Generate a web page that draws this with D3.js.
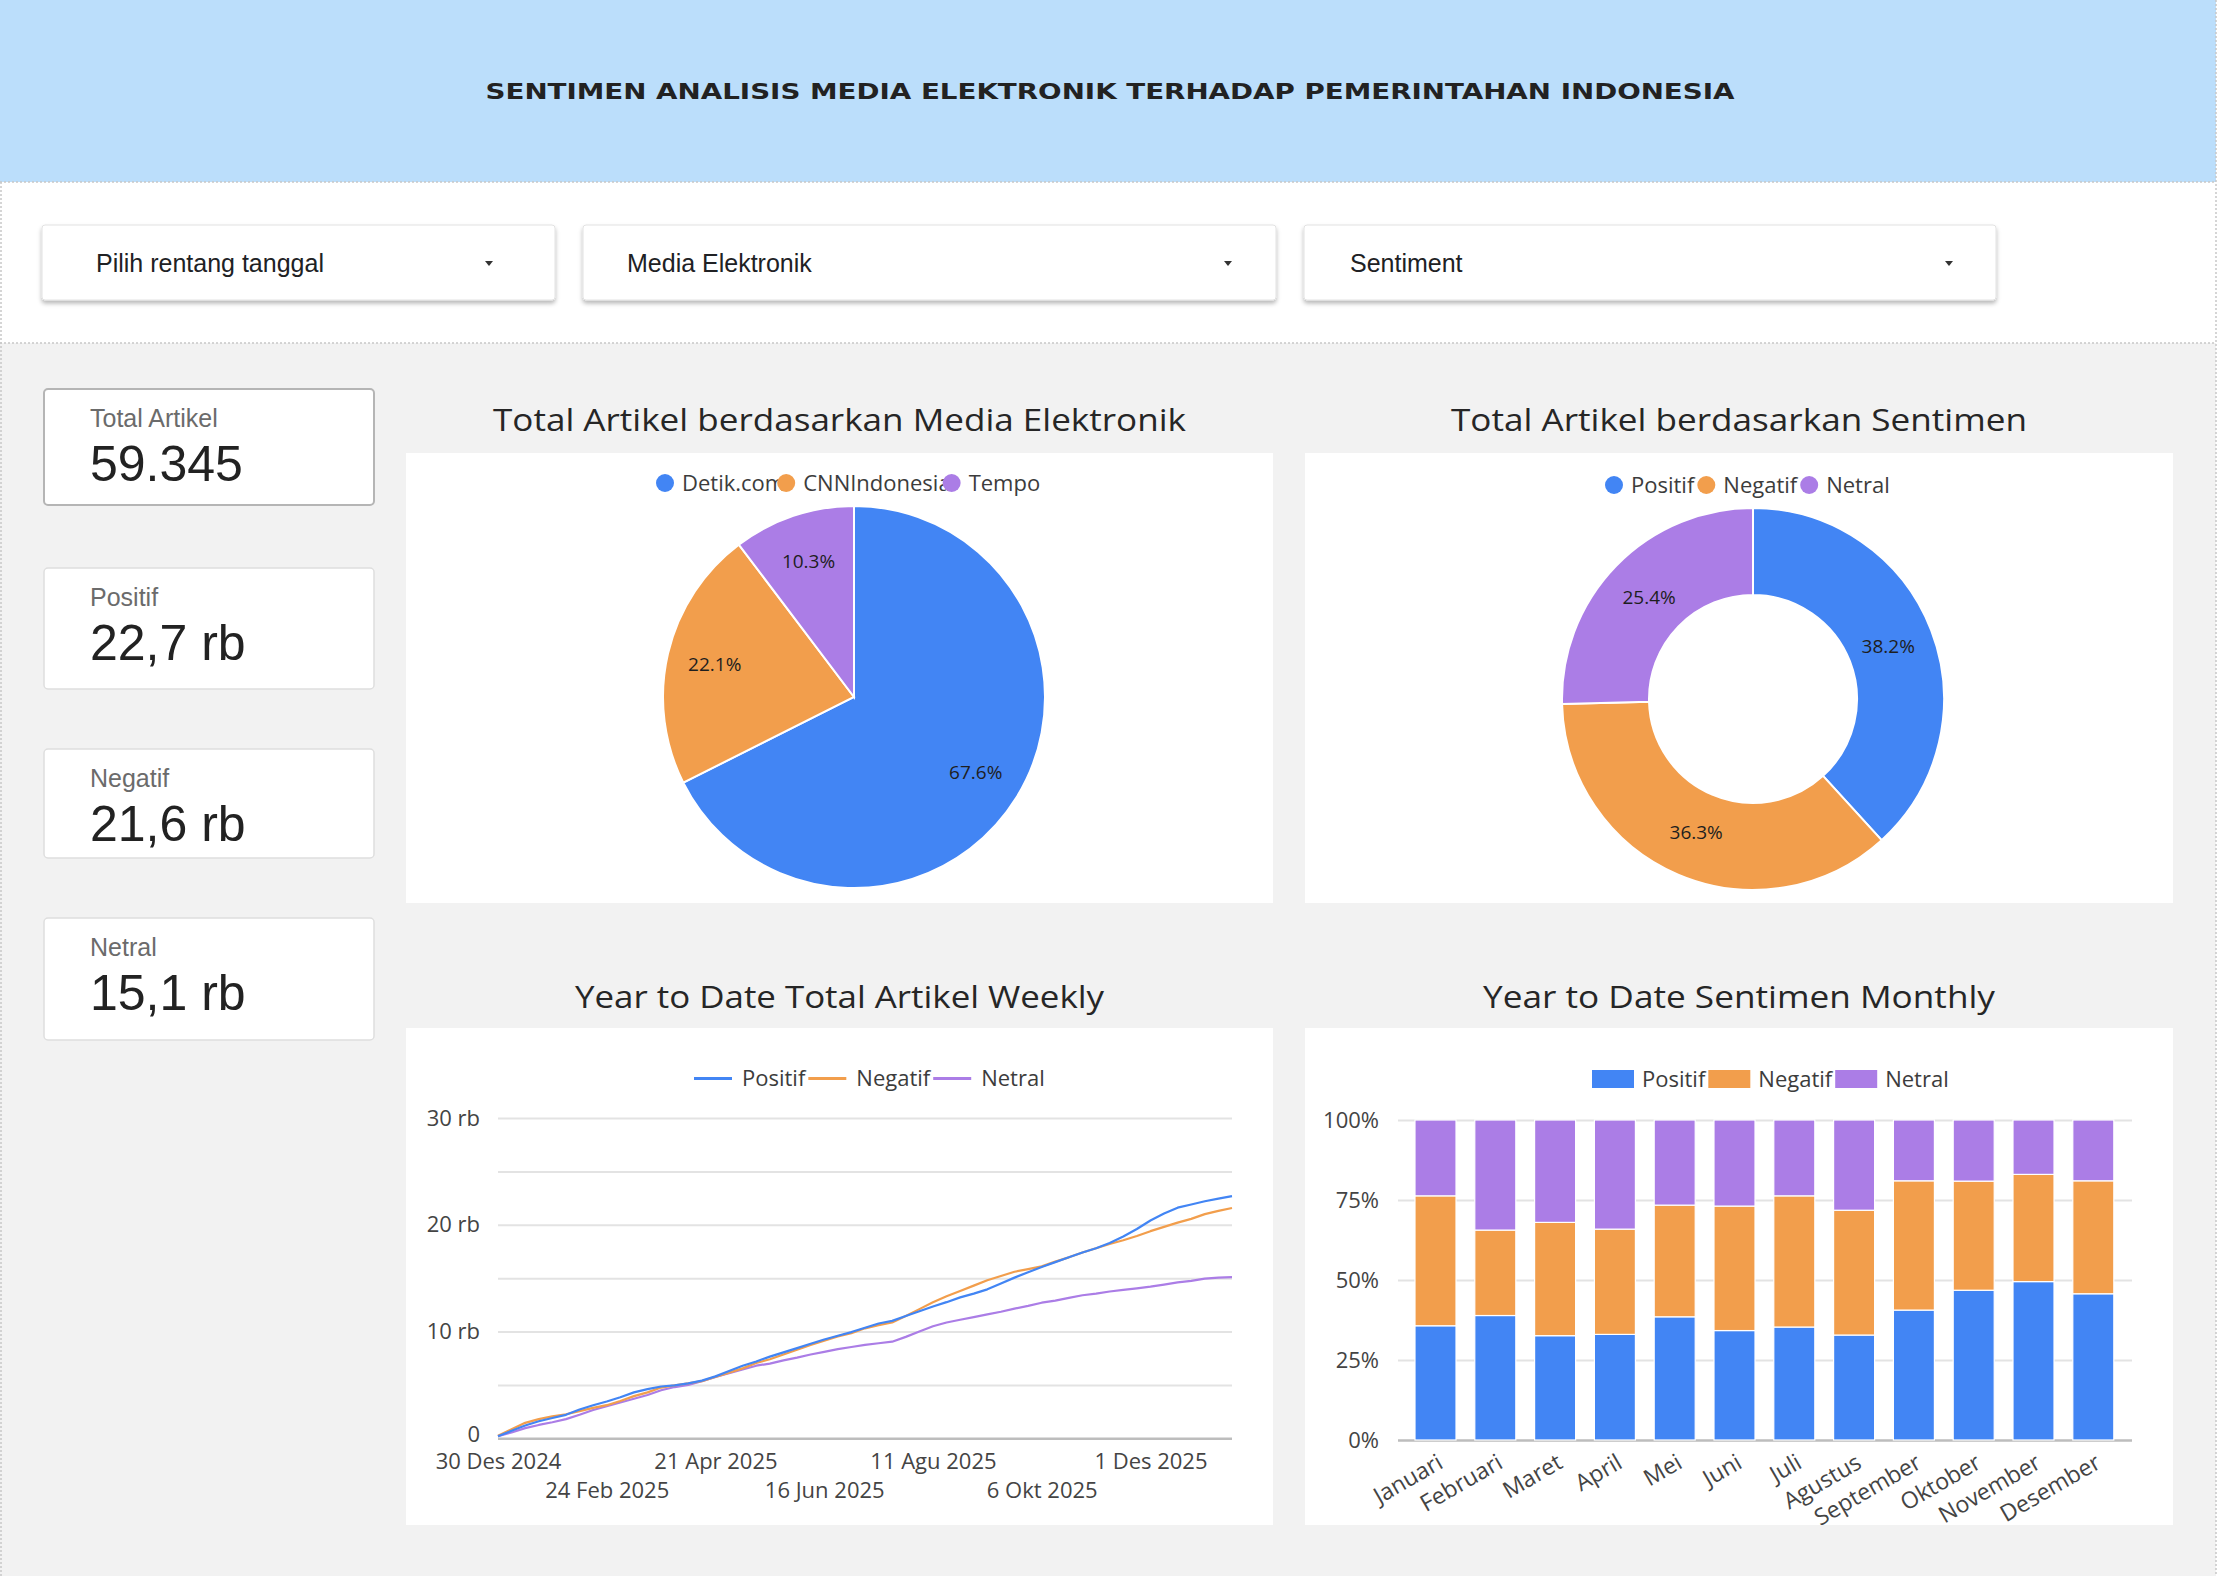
<!DOCTYPE html>
<html>
<head>
<meta charset="utf-8">
<script src="https://cdn.jsdelivr.net/npm/d3@7"></script>
<style>
body { margin: 0; background: #fff; }
svg { display: block; }
</style>
</head>
<body>
<svg id="dash" width="2220" height="1576"></svg>
<script>
// ---- data ----
let pageTitle = "SENTIMEN ANALISIS MEDIA ELEKTRONIK TERHADAP PEMERINTAHAN INDONESIA";
let filterLabels = ["Pilih rentang tanggal", "Media Elektronik", "Sentiment"];
let chartTitles = ["Total Artikel berdasarkan Media Elektronik", "Total Artikel berdasarkan Sentimen",
                   "Year to Date Total Artikel Weekly", "Year to Date Sentimen Monthly"];

let sentimenNames = ["Positif", "Negatif", "Netral"];
let sentimenTotals = [22694, 21566, 15085];          // artikel
let mediaNames = ["Detik.com", "CNNIndonesia", "Tempo"];
let mediaTotals = [40117, 13115, 6113];              // artikel
let colors = ["#4285f4", "#f29e4c", "#ab7de6"];

// cumulative weekly counts (rb = ribu), first week 30 Des 2024
let weekStart = "2024-12-30";
let weeklyPositif = [0.2, 0.7, 1.2, 1.6, 1.9, 2.2, 2.7, 3.1, 3.45, 3.85, 4.3, 4.6, 4.85, 4.95, 5.15, 5.4,
  5.8, 6.3, 6.8, 7.2, 7.65, 8.05, 8.45, 8.85, 9.25, 9.6, 9.95, 10.35, 10.75, 11.0, 11.45, 11.9, 12.35,
  12.75, 13.2, 13.55, 13.95, 14.5, 15.05, 15.55, 16.05, 16.5, 16.95, 17.4, 17.8, 18.3, 18.9, 19.6,
  20.4, 21.05, 21.6, 21.9, 22.2, 22.45, 22.69];
let weeklyNegatif = [0.25, 0.85, 1.45, 1.8, 2.05, 2.25, 2.55, 2.85, 3.1, 3.5, 3.95, 4.3, 4.75, 4.95, 5.15,
  5.35, 5.75, 6.15, 6.55, 7.05, 7.4, 7.85, 8.3, 8.75, 9.15, 9.55, 9.85, 10.3, 10.6, 10.85, 11.45, 12.1,
  12.75, 13.3, 13.8, 14.3, 14.8, 15.2, 15.6, 15.85, 16.1, 16.55, 16.95, 17.4, 17.8, 18.2, 18.55, 18.95,
  19.4, 19.8, 20.2, 20.55, 21.0, 21.3, 21.57];
let weeklyNetral = [0.2, 0.55, 0.95, 1.25, 1.5, 1.8, 2.2, 2.65, 3.0, 3.35, 3.7, 4.05, 4.5, 4.8, 5.0, 5.35,
  5.75, 6.1, 6.45, 6.8, 7.0, 7.3, 7.55, 7.85, 8.1, 8.35, 8.55, 8.75, 8.9, 9.05, 9.5, 10.0, 10.5, 10.85,
  11.1, 11.35, 11.6, 11.85, 12.15, 12.4, 12.7, 12.9, 13.15, 13.4, 13.55, 13.75, 13.9, 14.05, 14.2,
  14.4, 14.6, 14.75, 14.95, 15.05, 15.09];
let lineTickDates = ["2024-12-30", "2025-02-24", "2025-04-21", "2025-06-16", "2025-08-11", "2025-10-06", "2025-12-01"];
let lineYTicks = [0, 5, 10, 15, 20, 25, 30];
let blnSingkat = ["Jan", "Feb", "Mar", "Apr", "Mei", "Jun", "Jul", "Agu", "Sep", "Okt", "Nov", "Des"];

// monthly share (%)
let bulan = ["Januari", "Februari", "Maret", "April", "Mei", "Juni", "Juli", "Agustus",
             "September", "Oktober", "November", "Desember"];
let monthlyPositif = [35.7, 38.9, 32.6, 33.0, 38.5, 34.2, 35.3, 32.8, 40.6, 46.8, 49.5, 45.7];
let monthlyNegatif = [40.6, 26.7, 35.4, 32.9, 34.9, 38.9, 41.0, 39.0, 40.4, 34.1, 33.5, 35.3];
let monthlyNetral  = [23.7, 34.4, 32.0, 34.1, 26.6, 26.9, 23.7, 28.2, 19.0, 19.1, 17.0, 19.0];
let barYTicks = [0, 25, 50, 75, 100];

// ---- setup ----
let svg = d3.select("#dash");
let W = 2220, H = 1576;
let fChart = "'Open Sans', sans-serif";
let fUi = "'Liberation Sans', Arial, sans-serif";
let idLocale = d3.formatLocale({decimal: ",", thousands: ".", grouping: [3], currency: ["Rp", ""]});

let defs = svg.append("defs");
let sh = defs.append("filter").attr("id", "shadow").attr("x", "-5%").attr("y", "-20%")
    .attr("width", "110%").attr("height", "160%");
sh.append("feDropShadow").attr("dx", 0).attr("dy", 3).attr("stdDeviation", 2)
    .attr("flood-color", "#000").attr("flood-opacity", 0.28);
defs.append("clipPath").attr("id", "barclip").append("rect")
    .attr("x", 1305).attr("y", 1028).attr("width", 868).attr("height", 497);

// backgrounds
svg.append("rect").attr("width", W).attr("height", H).attr("fill", "#fff");
svg.append("rect").attr("width", 2216).attr("height", 182).attr("fill", "#bbdefb");
svg.append("rect").attr("y", 343).attr("width", 2216).attr("height", H - 343).attr("fill", "#f2f2f2");
[[0, 182, 2216, 182], [0, 343, 2216, 343], [1, 182, 1, H], [2216, 0, 2216, H]].forEach(l => {
    svg.append("line").attr("x1", l[0]).attr("y1", l[1]).attr("x2", l[2]).attr("y2", l[3])
        .attr("stroke", "#c8c8c8").attr("stroke-width", 1.5).attr("stroke-dasharray", "2,2");
});

svg.append("text").attr("x", 1110).attr("y", 99).attr("text-anchor", "middle")
    .attr("font-family", "'DejaVu Sans', sans-serif").attr("font-weight", 700).attr("font-size", 22)
    .attr("fill", "#222").attr("textLength", 1249).attr("lengthAdjust", "spacingAndGlyphs")
    .text(pageTitle);

// filter controls
let boxes = [{x: 42, w: 513, tx: 54, ax: 66}, {x: 583, w: 693, tx: 44, ax: 48}, {x: 1304, w: 692, tx: 46, ax: 47}];
boxes.forEach((b, i) => {
    let g = svg.append("g");
    g.append("rect").attr("x", b.x).attr("y", 225).attr("width", b.w).attr("height", 75).attr("rx", 3)
        .attr("fill", "#fff").attr("stroke", "#e2e2e2").attr("filter", "url(#shadow)");
    g.append("text").attr("x", b.x + b.tx).attr("y", 272).attr("font-family", fUi).attr("font-size", 25)
        .attr("fill", "#202124").text(filterLabels[i]);
    let ax = b.x + b.w - b.ax;
    g.append("path").attr("d", `M${ax - 4},261 L${ax + 4},261 L${ax},266 Z`).attr("fill", "#333");
});

// scorecards
let grandTotal = d3.sum(sentimenTotals);
let cardLabels = ["Total Artikel"].concat(sentimenNames);
let cardValues = [idLocale.format(",d")(grandTotal)].concat(
    sentimenTotals.map(v => idLocale.format(",.1f")(v / 1000) + " rb"));
let cardY = [389, 568, 749, 918], cardH = [116, 121, 109, 122];
cardLabels.forEach((lab, i) => {
    let g = svg.append("g");
    g.append("rect").attr("x", 44).attr("y", cardY[i]).attr("width", 330).attr("height", cardH[i]).attr("rx", 4)
        .attr("fill", "#fff").attr("stroke", i === 0 ? "#b5b5b5" : "#dedede").attr("stroke-width", i === 0 ? 2 : 1.5);
    g.append("text").attr("x", 90).attr("y", cardY[i] + 38).attr("font-family", fUi).attr("font-size", 25)
        .attr("fill", "#6b6b6b").text(lab);
    g.append("text").attr("x", 90).attr("y", cardY[i] + 92).attr("font-family", fUi).attr("font-size", 50)
        .attr("fill", "#222").text(cardValues[i]);
});

// chart panels + titles
let panels = [{x: 406, y: 453, w: 867, h: 450, ty: 431}, {x: 1305, y: 453, w: 868, h: 450, ty: 431},
              {x: 406, y: 1028, w: 867, h: 497, ty: 1008}, {x: 1305, y: 1028, w: 868, h: 497, ty: 1008}];
let titleLen = [693, 576, 529, 512];
panels.forEach((p, i) => {
    svg.append("rect").attr("x", p.x).attr("y", p.y).attr("width", p.w).attr("height", p.h).attr("fill", "#fff");
    svg.append("text").attr("x", p.x + p.w / 2).attr("y", p.ty).attr("text-anchor", "middle")
        .attr("font-family", fChart).attr("font-size", 31).attr("fill", "#262626")
        .attr("textLength", titleLen[i]).attr("lengthAdjust", "spacingAndGlyphs").text(chartTitles[i]);
});

function legend(x0, y, names, kind, gap) {
    let g = svg.append("g").attr("transform", `translate(${x0},${y})`);
    let x = 0;
    names.forEach((n, i) => {
        let it = g.append("g").attr("transform", `translate(${x},0)`);
        let off;
        if (kind === "dot") {
            it.append("circle").attr("cx", 9).attr("r", 9).attr("fill", colors[i]);
            off = 26;
        } else if (kind === "line") {
            it.append("line").attr("x1", 0).attr("x2", 38).attr("stroke", colors[i]).attr("stroke-width", 3);
            off = 48;
        } else {
            it.append("rect").attr("y", -9).attr("width", 42).attr("height", 18).attr("fill", colors[i]);
            off = 50;
        }
        let t = it.append("text").attr("x", off).attr("dy", "0.36em").attr("font-family", fChart)
            .attr("font-size", 22).attr("fill", "#3c3c3c").text(n);
        x += off + t.node().getComputedTextLength() + gap;
    });
}

// pie: media
let pctFmt = d3.format(".1%");
function ring(cx, cy, values, inner, labelR) {
    let total = d3.sum(values);
    let g = svg.append("g").attr("transform", `translate(${cx},${cy})`);
    let arcs = d3.pie().sort(null).value(d => d)(values);
    let arc = d3.arc().innerRadius(inner).outerRadius(191);
    let lab = d3.arc().innerRadius(labelR).outerRadius(labelR);
    g.selectAll("path").data(arcs).join("path").attr("d", arc)
        .attr("fill", (d, i) => colors[i]).attr("stroke", "#fff").attr("stroke-width", 2);
    g.selectAll("text").data(arcs).join("text")
        .attr("transform", d => `translate(${lab.centroid(d)})`)
        .attr("text-anchor", "middle").attr("dy", "0.35em")
        .attr("font-family", fChart).attr("font-size", 19).attr("fill", "#1e1e1e")
        .text(d => pctFmt(d.value / total));
}
ring(854, 697, mediaTotals, 0, 143);
legend(656, 483, mediaNames, "dot", -8);
ring(1753, 699, sentimenTotals, 104, 145);
legend(1605, 485, sentimenNames, "dot", 3);

// line chart: weekly cumulative
let parse = d3.timeParse("%Y-%m-%d");
let d0 = parse(weekStart);
let weekDates = weeklyPositif.map((v, i) => d3.timeDay.offset(d0, 7 * i));
let lx = d3.scaleTime().domain(d3.extent(weekDates)).range([498, 1232]);
let ly = d3.scaleLinear().domain([0, 30]).range([1438.3, 1118]);
let rb = v => v === 0 ? "0" : v + " rb";

let gy = svg.append("g").attr("transform", "translate(498,0)")
    .call(d3.axisLeft(ly).tickValues(lineYTicks).tickSize(-734).tickPadding(18)
        .tickFormat(v => v % 10 === 0 ? rb(v) : ""));
gy.select(".domain").remove();
gy.selectAll("line").attr("stroke", d => d === 0 ? "#bdbdbd" : "#e3e3e3").attr("stroke-width", d => d === 0 ? 2.5 : 2);
gy.selectAll("text").attr("font-family", fChart).attr("font-size", 22).attr("fill", "#444")
    .attr("dy", d => d === 0 ? "0.15em" : "0.32em");

let gx = svg.append("g").attr("transform", "translate(0,1438.3)")
    .call(d3.axisBottom(lx).tickValues(lineTickDates.map(parse)).tickSize(0)
        .tickFormat(d => d.getDate() + " " + blnSingkat[d.getMonth()] + " " + d.getFullYear()));
gx.select(".domain").remove();
gx.selectAll("text").attr("font-family", fChart).attr("font-size", 22).attr("fill", "#444")
    .attr("dy", 0).attr("y", (d, i) => i % 2 === 0 ? 31 : 60);

let weeklySeries = [weeklyPositif, weeklyNegatif, weeklyNetral];
let line = d3.line().x((d, i) => lx(weekDates[i])).y(d => ly(d));
weeklySeries.slice().reverse().forEach((s, k) => {
    let i = 2 - k;
    svg.append("path").datum(s).attr("d", line).attr("fill", "none")
        .attr("stroke", colors[i]).attr("stroke-width", 2.2).attr("stroke-linejoin", "round");
});
legend(694, 1078.5, sentimenNames, "line", 3);

// stacked bar: monthly share
let rows = bulan.map((b, i) => ({bulan: b, Positif: monthlyPositif[i], Negatif: monthlyNegatif[i], Netral: monthlyNetral[i]}));
let bx = d3.scaleBand().domain(bulan).range([1405.6, 2123.2]).paddingInner(0.314).paddingOuter(0.157);
let by = d3.scaleLinear().domain([0, 100]).range([1440, 1120]);

let gby = svg.append("g").attr("transform", "translate(1398,0)")
    .call(d3.axisLeft(by).tickValues(barYTicks).tickSize(-734).tickPadding(19).tickFormat(v => v + "%"));
gby.select(".domain").remove();
gby.selectAll("line").attr("stroke", d => d === 0 ? "#bdbdbd" : "#e3e3e3").attr("stroke-width", d => d === 0 ? 2.5 : 2);
gby.selectAll("text").attr("font-family", fChart).attr("font-size", 22).attr("fill", "#444");

let stacked = d3.stack().keys(sentimenNames)(rows);
svg.append("g").selectAll("g").data(stacked).join("g").attr("fill", (d, i) => colors[i])
    .selectAll("rect").data(d => d).join("rect")
    .attr("x", d => bx(d.data.bulan)).attr("width", bx.bandwidth())
    .attr("y", d => by(d[1])).attr("height", d => by(d[0]) - by(d[1]))
    .attr("stroke", "#fff").attr("stroke-width", 1.2);

svg.append("g").attr("clip-path", "url(#barclip)").selectAll("text").data(bulan).join("text")
    .attr("transform", d => `translate(${bx(d) + bx.bandwidth() / 2 + 9},${1467}) rotate(-30)`)
    .attr("text-anchor", "end").attr("font-family", fChart).attr("font-size", 23).attr("fill", "#444")
    .text(d => d);
legend(1592, 1079, sentimenNames, "rect", 3);
</script>
</body>
</html>
